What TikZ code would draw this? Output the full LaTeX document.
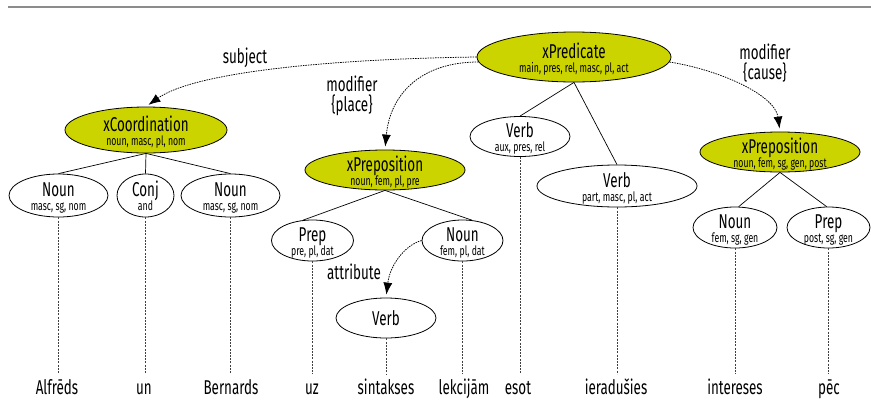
\documentclass[tikz,border=0pt]{standalone}
\usepackage{fontspec}
\setmainfont[FakeStretch=0.67]{Fira Sans}
\usetikzlibrary{arrows.meta,shapes.geometric}
\definecolor{nodefill}{RGB}{204,212,0}
\definecolor{rulegray}{RGB}{140,140,140}
\tikzset{
  ell/.style={draw=black, line width=0.8pt, ellipse, inner sep=0pt},
  filled/.style={ell, fill=nodefill},
  plain/.style={ell, fill=white},
  mainlbl/.style={font=\fontsize{20}{22}\selectfont, inner sep=0pt, anchor=base},
  sublbl/.style={font=\fontsize{13}{14}\selectfont, inner sep=0pt, anchor=base},
  word/.style={font=\fontsize{20}{22}\selectfont, anchor=base, inner xsep=0pt, inner ysep=6pt, text height=14pt, text depth=4pt},
  tree/.style={draw=black, line width=0.7pt},
  leaf/.style={draw=black!75, line width=0.8pt, dash pattern=on 2pt off 1.2pt},
  rel/.style={draw=black, line width=0.75pt, dash pattern=on 1.5pt off 1pt, -{Latex[length=12pt,width=9pt]}, shorten >=3pt},
  lbl/.style={font=\fontsize{20}{22}\selectfont, inner sep=0pt, align=center}
}
\newcommand\gnode[8]{%
  \node[#1, minimum width=#5, minimum height=#6] (#2) at (#3,#4) {};
  \node[mainlbl] (#2-m) at (#3,#4+1) {#7};
  \node[sublbl] (#2-s) at (#3,#4+15) {#8};}
\begin{document}
\begin{tikzpicture}[x=1pt,y=-1pt]
\useasboundingbox (0,0) rectangle (871,413);
\draw[rulegray, line width=2.5pt] (8,7) -- (871,7);

\gnode{filled}{pred}{574}{57}{194}{50}{xPredicate}{main, pres, rel, masc, pl, act}
\gnode{filled}{coord}{146}{130}{162}{46}{xCoordination}{noun, masc, pl, nom}
\gnode{plain}{n1}{58.5}{195.5}{99}{43}{Noun}{masc, sg, nom}
\gnode{plain}{conj}{145.5}{195.5}{57}{43}{Conj}{and}
\gnode{plain}{n2}{230.5}{195.5}{99}{43}{Noun}{masc, sg, nom}
\gnode{filled}{pplace}{385}{170}{160}{40}{xPreposition}{noun, fem, pl, pre}
\gnode{plain}{prep1}{312.5}{240.5}{82}{41}{Prep}{pre, pl, dat}
\gnode{plain}{noun3}{462.5}{240.5}{81}{41}{Noun}{fem, pl, dat}
\gnode{plain}{vaux}{520}{136.5}{100}{40}{Verb}{aux, pres, rel}
\gnode{plain}{vpart}{617}{186}{160}{42}{Verb}{part, masc, pl, act}
\gnode{filled}{pcause}{780}{152}{160}{40}{xPreposition}{noun, fem, sg, gen, post}
\gnode{plain}{noun4}{735}{227.5}{84}{41}{Noun}{fem, sg, gen}
\gnode{plain}{prep2}{828.5}{227.5}{83}{41}{Prep}{post, sg, gen}
\node[plain, minimum width=100, minimum height=40, font=\fontsize{20}{22}\selectfont] (vattr) at (386,318) {Verb};

% words
\node[word] (w1) at (57,394) {Alfrēds};
\node[word] (w2) at (144,394) {un};
\node[word] (w3) at (231,394) {Bernards};
\node[word] (w4) at (312,394) {uz};
\node[word] (w5) at (386,394) {sintakses};
\node[word] (w6) at (464,394) {lekcijām};
\node[word] (w7) at (518,394) {esot};
\node[word] (w8) at (616,394) {ieradušies};
\node[word] (w9) at (735,394) {intereses};
\node[word] (w10) at (829,394) {pēc};

% tree edges
\draw[tree] (coord.south) -- (n1.north);
\draw[tree] (coord.south) -- (conj.north);
\draw[tree] (coord.south) -- (n2.north);
\draw[tree] (pred.south) -- (vaux.north);
\draw[tree] (pred.south) -- (vpart.north);
\draw[tree] (pplace.south) -- (prep1.115);
\draw[tree] (pplace.south) -- (noun3.65);
\draw[tree] (pcause.south) -- (noun4.80);
\draw[tree] (pcause.south) -- (prep2.95);

% leaf links
\draw[leaf] (n1.south) -- (n1.south |- w1.north);
\draw[leaf] (conj.south) -- (conj.south |- w2.north);
\draw[leaf] (n2.south) -- (n2.south |- w3.north);
\draw[leaf] (prep1.south) -- (prep1.south |- w4.north);
\draw[leaf] (vattr.south) -- (vattr.south |- w5.north);
\draw[leaf] (noun3.south) -- (noun3.south |- w6.north);
\draw[leaf] (vaux.south) -- (vaux.south |- w7.north);
\draw[leaf] (vpart.south) -- (vpart.south |- w8.north);
\draw[leaf] (noun4.south) -- (noun4.south |- w9.north);
\draw[leaf] (prep2.south) -- (prep2.south |- w10.north);

% relations
\draw[rel] (pred.west) .. controls (330,59) and (195,72) .. (coord.north);
\draw[rel] (pred.183) .. controls (420,62) and (390,95) .. (pplace.north);
\draw[rel] (pred.357) .. controls (720,70) and (775,95) .. (pcause.north);
\draw[rel] (noun3.west) .. controls (405,245) and (390,265) .. (vattr.north);

% relation labels
\node[lbl] (l1) at (245,58) {subject};
\node[lbl] (l2) at (352,96) {modifier\\[-2pt]\{place\}};
\node[lbl] (l3) at (765,63) {modifier\\[-2pt]\{cause\}};
\node[lbl] (l4) at (354,272) {attribute};
\end{tikzpicture}
\end{document}
